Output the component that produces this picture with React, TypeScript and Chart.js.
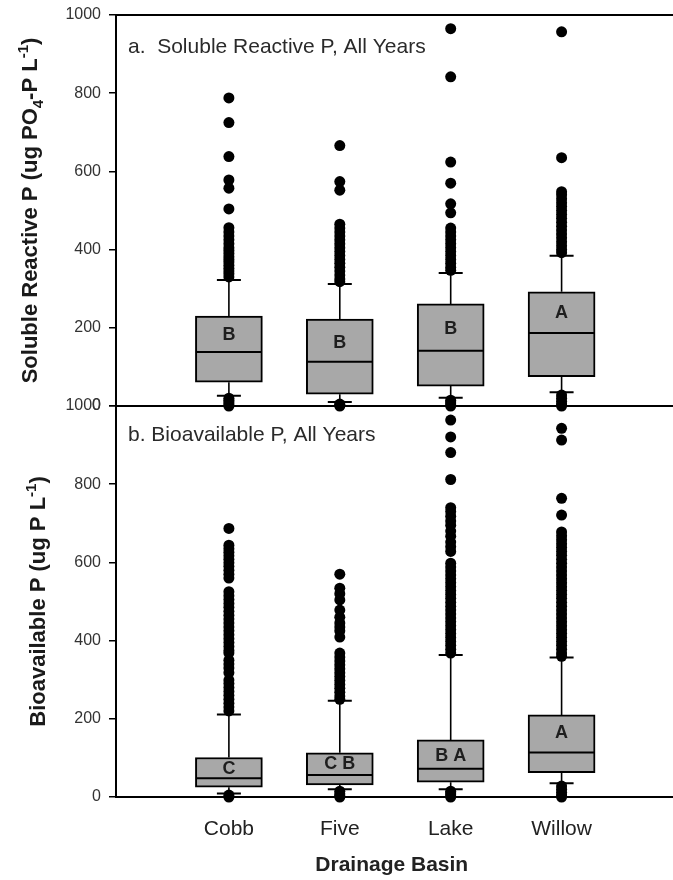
import React, { useEffect, useRef } from "react";
import { Chart, registerables } from "chart.js";
Chart.register(...registerables);

const FONT = "'Liberation Sans', Arial, Helvetica, sans-serif";

const categories = ["Cobb", "Five", "Lake", "Willow"];

// ---- Panel a: Soluble Reactive P ----
const srpQ1 = [61, 30, 51, 75];
const srpMedian = [138, 113, 141, 187];
const srpQ3 = [230, 222, 261, 292];
const srpWhiskerLow = [26, 10, 21, 35];
const srpWhiskerHigh = [322, 312, 340, 384];
const srpLetters = ["B", "B", "B", "A"];
const srpLetterY = [182, 161, 197, 238];
const srpOutCobb = [788, 725, 638, 578, 557, 504, 456, 445, 435, 425, 415, 405, 398, 390, 382, 375, 368, 360, 352, 345, 338, 330, 20, 15, 10, 5, 0];
const srpOutFive = [666, 574, 552, 465, 455, 445, 435, 425, 415, 405, 395, 385, 375, 365, 355, 345, 335, 325, 318, 5, 2, 0];
const srpOutLake = [965, 842, 624, 570, 517, 494, 455, 445, 435, 425, 415, 405, 395, 385, 375, 365, 355, 347, 15, 10, 5, 0];
const srpOutWillow = [957, 635, 548, 540, 530, 520, 510, 500, 490, 480, 470, 460, 450, 440, 430, 420, 410, 400, 392, 28, 20, 12, 5, 0];

// ---- Panel b: Bioavailable P ----
const bapQ1 = [25, 31, 38, 62];
const bapMedian = [48, 56, 72, 114];
const bapQ3 = [101, 113, 146, 210];
const bapWhiskerLow = [9, 20, 20, 35];
const bapWhiskerHigh = [211, 246, 363, 357];
const bapLetters = ["C", "C B", "B A", "A"];
const bapLetterY = [72, 84, 105, 164];
const bapOutCobb = [687, 644, 635, 626, 617, 608, 599, 590, 580, 570, 560, 525, 515, 505, 495, 485, 475, 465, 455, 445, 435, 425, 415, 405, 395, 385, 375, 368, 350, 340, 330, 318, 299, 290, 280, 270, 260, 250, 240, 230, 220, 5, 0];
const bapOutFive = [570, 534, 520, 504, 478, 460, 445, 435, 425, 409, 368, 358, 348, 338, 328, 318, 308, 298, 288, 278, 268, 258, 250, 15, 8, 3, 0];
const bapOutLake = [964, 921, 881, 812, 740, 730, 718, 706, 695, 680, 667, 652, 640, 628, 598, 588, 578, 568, 558, 548, 538, 528, 518, 508, 498, 488, 478, 468, 458, 448, 438, 428, 418, 408, 398, 388, 378, 368, 15, 10, 5, 0];
const bapOutWillow = [943, 913, 764, 721, 678, 668, 658, 648, 638, 628, 618, 608, 598, 588, 578, 568, 558, 548, 538, 528, 518, 508, 498, 488, 478, 468, 458, 448, 438, 428, 418, 408, 398, 388, 378, 368, 360, 28, 20, 12, 5, 0];

const yTicksStep = 200;
const yMin = 0;
const yMax = 1000;
const xMin = -1.018;
const xMax = 3.955;

type Part = { t: string; k: "n" | "sub" | "sup" };

const srpTitle: Part[] = [
  { t: "Soluble Reactive P (ug PO", k: "n" },
  { t: "4", k: "sub" },
  { t: "-P L", k: "n" },
  { t: "-1", k: "sup" },
  { t: ")", k: "n" },
];
const bapTitle: Part[] = [
  { t: "Bioavailable P (ug P L", k: "n" },
  { t: "-1", k: "sup" },
  { t: ")", k: "n" },
];

interface Panel {
  q1: number[];
  med: number[];
  q3: number[];
  lo: number[];
  hi: number[];
  letters: string[];
  letterY: number[];
  outliers: number[][];
  label: string;
  labelDy: number;
  title: Part[];
  titleX: number;
}

function drawRich(ctx: CanvasRenderingContext2D, parts: Part[], cx: number, cy: number, size: number) {
  ctx.save();
  ctx.translate(cx, cy);
  ctx.rotate(-Math.PI / 2);
  const fMain = `bold ${size}px ${FONT}`;
  const fSmall = `bold ${Math.round(size * 0.66)}px ${FONT}`;
  let total = 0;
  for (const p of parts) {
    ctx.font = p.k === "n" ? fMain : fSmall;
    total += ctx.measureText(p.t).width;
  }
  let x = -total / 2;
  ctx.textBaseline = "alphabetic";
  ctx.textAlign = "left";
  ctx.fillStyle = "#1a1a1a";
  for (const p of parts) {
    ctx.font = p.k === "n" ? fMain : fSmall;
    const dy = p.k === "sub" ? size * 0.25 : p.k === "sup" ? -size * 0.42 : 0;
    ctx.fillText(p.t, x, dy);
    x += ctx.measureText(p.t).width;
  }
  ctx.restore();
}

function makeConfig(p: Panel, showX: boolean): any {
  const scatterData: { x: number; y: number }[] = [];
  p.outliers.forEach((arr, i) => arr.forEach((v) => scatterData.push({ x: i, y: v })));
  const boxData = categories.map((_, i) => ({ x: i, y: [p.q1[i], p.q3[i]] }));

  const decor = {
    id: "decor",
    beforeDatasetsDraw(chart: any) {
      const { ctx, scales } = chart;
      const xs = scales.x;
      const ys = scales.y;
      ctx.save();
      ctx.strokeStyle = "#000";
      categories.forEach((_, i) => {
        const cx = xs.getPixelForValue(i);
        ctx.lineWidth = 1.6;
        ctx.beginPath();
        ctx.moveTo(cx, ys.getPixelForValue(p.q3[i]));
        ctx.lineTo(cx, ys.getPixelForValue(p.hi[i]));
        ctx.moveTo(cx, ys.getPixelForValue(p.q1[i]));
        ctx.lineTo(cx, ys.getPixelForValue(p.lo[i]));
        ctx.stroke();
        ctx.lineWidth = 2;
        ctx.beginPath();
        const yh = ys.getPixelForValue(p.hi[i]);
        const yl = ys.getPixelForValue(p.lo[i]);
        ctx.moveTo(cx - 12, yh);
        ctx.lineTo(cx + 12, yh);
        ctx.moveTo(cx - 12, yl);
        ctx.lineTo(cx + 12, yl);
        ctx.stroke();
      });
      ctx.restore();
    },
    afterDatasetsDraw(chart: any) {
      const { ctx, scales } = chart;
      const xs = scales.x;
      const ys = scales.y;
      ctx.save();
      categories.forEach((_, i) => {
        const cx = xs.getPixelForValue(i);
        const ym = ys.getPixelForValue(p.med[i]);
        ctx.strokeStyle = "#000";
        ctx.lineWidth = 2;
        ctx.beginPath();
        ctx.moveTo(cx - 33, ym);
        ctx.lineTo(cx + 33, ym);
        ctx.stroke();
        ctx.fillStyle = "#1e1e1e";
        ctx.font = `bold 18px ${FONT}`;
        ctx.textAlign = "center";
        ctx.textBaseline = "middle";
        ctx.fillText(p.letters[i], cx, ys.getPixelForValue(p.letterY[i]));
      });
      ctx.restore();
    },
    afterDraw(chart: any) {
      const { ctx, chartArea, width } = chart;
      ctx.save();
      ctx.strokeStyle = "#000";
      ctx.lineWidth = 2;
      ctx.beginPath();
      ctx.moveTo(chartArea.left, chartArea.top);
      ctx.lineTo(width, chartArea.top);
      ctx.moveTo(chartArea.left, chartArea.bottom);
      ctx.lineTo(width, chartArea.bottom);
      ctx.moveTo(chartArea.left, chartArea.top - 1);
      ctx.lineTo(chartArea.left, chartArea.bottom + 1);
      ctx.stroke();
      ctx.fillStyle = "#2a2a2a";
      ctx.font = `21px ${FONT}`;
      ctx.textAlign = "left";
      ctx.textBaseline = "middle";
      ctx.fillText(p.label, chartArea.left + 12, chartArea.top + p.labelDy);
      drawRich(ctx, p.title, p.titleX, (chartArea.top + chartArea.bottom) / 2, 22);
      ctx.restore();
    },
  };

  const xScale: any = {
    type: "linear",
    min: xMin,
    max: xMax,
    offset: false,
    display: showX,
    afterBuildTicks: (s: any) => {
      s.ticks = categories.map((_, i) => ({ value: i }));
    },
    ticks: {
      callback: (v: any) => categories[v] ?? "",
      font: { size: 21, family: FONT },
      color: "#222",
      padding: 20,
      autoSkip: false,
      maxRotation: 0,
    },
    grid: { display: false, drawTicks: false },
    border: { display: false },
    title: {
      display: showX,
      text: "Drainage Basin",
      font: { size: 21, weight: "bold", family: FONT },
      color: "#222",
      padding: { top: 0, bottom: 2 },
    },
  };
  if (showX) {
    xScale.afterFit = (s: any) => {
      s.height = 83;
    };
  }

  return {
    type: "bar",
    data: {
      datasets: [
        {
          type: "scatter",
          data: scatterData,
          pointRadius: 5.5,
          pointBackgroundColor: "#000",
          pointBorderWidth: 0,
          clip: false,
        },
        {
          type: "bar",
          data: boxData,
          backgroundColor: "#a8a8a8",
          borderColor: "#000",
          borderWidth: 2,
          borderSkipped: false,
          barThickness: 67,
        },
      ],
    },
    options: {
      responsive: false,
      animation: false,
      events: [],
      layout: { padding: { top: 24, left: 0, right: 0, bottom: showX ? 0 : 24 } },
      plugins: { legend: { display: false }, tooltip: { enabled: false } },
      scales: {
        x: xScale,
        y: {
          min: yMin,
          max: yMax,
          ticks: {
            stepSize: yTicksStep,
            callback: (v: any) => String(v),
            font: { size: 16, family: FONT },
            color: "#333",
            padding: 8,
          },
          grid: { drawOnChartArea: false, drawTicks: true, tickLength: 7, color: "#000", lineWidth: 1.5 },
          border: { display: false },
          afterFit: (s: any) => {
            s.width = 116;
          },
        },
      },
    },
    plugins: [decor],
  };
}

const panelA: Panel = {
  q1: srpQ1,
  med: srpMedian,
  q3: srpQ3,
  lo: srpWhiskerLow,
  hi: srpWhiskerHigh,
  letters: srpLetters,
  letterY: srpLetterY,
  outliers: [srpOutCobb, srpOutFive, srpOutLake, srpOutWillow],
  label: "a.  Soluble Reactive P, All Years",
  labelDy: 32,
  title: srpTitle,
  titleX: 37,
};

const panelB: Panel = {
  q1: bapQ1,
  med: bapMedian,
  q3: bapQ3,
  lo: bapWhiskerLow,
  hi: bapWhiskerHigh,
  letters: bapLetters,
  letterY: bapLetterY,
  outliers: [bapOutCobb, bapOutFive, bapOutLake, bapOutWillow],
  label: "b. Bioavailable P, All Years",
  labelDy: 29,
  title: bapTitle,
  titleX: 45,
};

export default function App() {
  const topRef = useRef<HTMLCanvasElement>(null);
  const botRef = useRef<HTMLCanvasElement>(null);
  useEffect(() => {
    Chart.defaults.font.family = FONT;
    const a = new Chart(topRef.current as HTMLCanvasElement, makeConfig(panelA, false));
    const b = new Chart(botRef.current as HTMLCanvasElement, makeConfig(panelB, true));
    return () => {
      a.destroy();
      b.destroy();
    };
  }, []);
  return (
    <div style={{ position: "absolute", left: 0, top: 0, width: 673, height: 880, background: "#fff", overflow: "hidden" }}>
      <canvas ref={topRef} width={673} height={439} style={{ position: "absolute", left: 0, top: -9, width: 673, height: 439 }} />
      <canvas ref={botRef} width={673} height={498} style={{ position: "absolute", left: 0, top: 382, width: 673, height: 498 }} />
    </div>
  );
}
